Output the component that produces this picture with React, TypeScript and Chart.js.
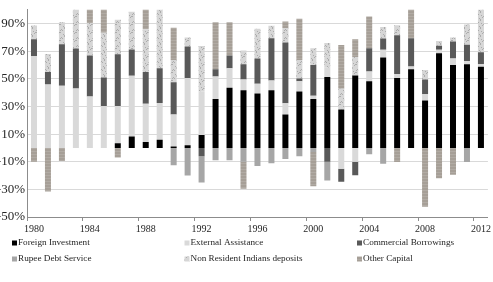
import { useEffect, useRef } from 'react';
import { Chart, registerables } from 'chart.js';

Chart.register(...registerables);

const years = [
  '1980', '1981', '1982', '1983', '1984', '1985', '1986', '1987', '1988', '1989',
  '1990', '1991', '1992', '1993', '1994', '1995', '1996', '1997', '1998', '1999',
  '2000', '2001', '2002', '2003', '2004', '2005', '2006', '2007', '2008', '2009',
  '2010', '2011', '2012',
];

const foreignInvestment = [
  0, 0, 0, 0, 0, 0, 3.4, 8.2, 4.3, 6,
  1, 2, 9.3, 35.4, 43.6, 41.8, 39.4, 41.8, 24.2, 40.8,
  35.4, 51.4, 27.9, 52.5, 48.3, 65.4, 50.7, 57, 34.3, 68.6,
  60, 60.5, 58.8,
];
const externalAssistance = [
  66.5, 46, 45, 43, 37.3, 30.3, 27, 44, 27.7, 26.6,
  23.2, 48.7, 31.5, 16.4, 14, 7.7, 7, 7, 8.2, 7.5,
  2.3, 6.7, -15, -10, 7, 5.6, 2.8, 1.9, 4.6, 2.4,
  4.7, 2.5, 1.7,
];
const commercialBorrowings = [
  12.2, 9, 30, 29, 29.7, 20.7, 37.4, 19, 23, 25,
  23.4, 22.8, -6, 5.2, 9.3, 11, 18.3, 30.6, 44, 2,
  22.3, -10, -9.5, -9.8, 16.8, 8.2, 28, 20.5, 10.6, 3,
  12.3, 11.7, 8.8,
];
const rupeeDebtService = [
  0, 0, 0, 0, 0, 0, 0, 0, 0, 0,
  -12.5, -20, -19, -9, -9, -10, -13, -11, -8, -6,
  -3, -13.5, 0, 0, -4.5, -11.4, 0, 0, 0, 0,
  0, -10.2, 0,
];
const nriDeposits = [
  10, 13, 16, 30, 23.4, 32.4, 25, 27.4, 31, 43,
  16, 6.5, 33, 0, 0, 10, 21.5, 9, 10.5, 13.3,
  12.1, 17.8, 15, 13.3, 0, 8.4, 7.3, 0, 7, 3.5,
  3, 14.6, 32,
];
const otherCapital = [
  -10, -31.5, -9.5, 0, 12, 18, -7, 0, 16, 0,
  23.4, 0, 0, 34, 24, -19.6, 0, 0, 4.7, 30,
  -24.7, 0, 31.7, 12.9, 23, 0, -10.2, 22, -42.5, -22,
  -19.5, 0, 0,
];

const yTicks = [-50, -30, -10, 10, 30, 50, 70, 90];
const seriesNames = [
  'Foreign Investment',
  'External Assistance',
  'Commercial Borrowings',
  'Rupee Debt Service',
  'Non Resident Indians deposits',
  'Other Capital',
];

const FONT = '"Liberation Serif", "Times New Roman", serif';

function makePattern(base: string, ink: string, w: number, h: number, pts: number[][]) {
  const c = document.createElement('canvas');
  c.width = w;
  c.height = h;
  const g = c.getContext('2d')!;
  g.fillStyle = base;
  g.fillRect(0, 0, w, h);
  g.fillStyle = ink;
  pts.forEach(([x, y]) => g.fillRect(x, y, 1, 1));
  return g.createPattern(c, 'repeat') as CanvasPattern;
}

const gridLegend = {
  id: 'gridLegend',
  afterDraw(chart: any) {
    const { ctx, chartArea } = chart;
    const ds = chart.data.datasets;
    ctx.save();
    ctx.font = `9.2px ${FONT}`;
    ctx.textBaseline = 'middle';
    ctx.textAlign = 'left';
    const colW = 172.5;
    const x0 = chartArea.left - 15;
    ds.forEach((d: any, i: number) => {
      const col = i % 3;
      const row = Math.floor(i / 3);
      const x = x0 + col * colW;
      const y = chartArea.bottom + 26 + row * 16;
      ctx.fillStyle = d.backgroundColor;
      ctx.fillRect(x, y - 2.5, 5, 5);
      ctx.fillStyle = '#262626';
      ctx.fillText(d.label, x + 6, y);
    });
    ctx.restore();
  },
};

export default function App() {
  const ref = useRef<HTMLCanvasElement>(null);

  useEffect(() => {
    const canvas = ref.current!;
    const nriPattern = makePattern('#d6d6d6', '#acacac', 8, 8, [
      [1, 0], [2, 0], [0, 1], [5, 2], [6, 3], [6, 4], [3, 5], [2, 6], [4, 6], [7, 7],
    ]);
    const ocPattern = makePattern('#a69f97', '#b1aba4', 4, 3, [[0, 1], [1, 1], [2, 1], [3, 1]]);
    const colors: any[] = ['#000000', '#d9d9d9', '#595959', '#a6a6a6', nriPattern, ocPattern];
    const values = [
      foreignInvestment,
      externalAssistance,
      commercialBorrowings,
      rupeeDebtService,
      nriDeposits,
      otherCapital,
    ];

    const chart = new Chart(canvas, {
      type: 'bar',
      data: {
        labels: years,
        datasets: values.map((v, i) => ({
          label: seriesNames[i],
          data: v,
          backgroundColor: colors[i],
          borderWidth: 0,
          barPercentage: 0.43,
          categoryPercentage: 1,
        })),
      },
      options: {
        responsive: false,
        animation: false,
        devicePixelRatio: 1,
        layout: { padding: { left: 0, right: 4, top: 3, bottom: 0 } },
        plugins: {
          legend: { display: false },
          tooltip: { enabled: false },
        },
        scales: {
          x: {
            stacked: true,
            offset: true,
            grid: {
              offset: true,
              drawOnChartArea: false,
              drawTicks: true,
              tickLength: 4,
              color: (c: any) =>
                c.index !== undefined && c.index % 4 === 0 ? '#8c8c8c' : 'rgba(0,0,0,0)',
            },
            border: { display: true, color: '#8c8c8c' },
            ticks: {
              autoSkip: false,
              maxRotation: 0,
              padding: 2,
              color: '#262626',
              font: { family: FONT, size: 10 },
              callback: (_v: any, i: number) => (i % 4 === 0 ? years[i] : ''),
            },
            afterFit: (s: any) => {
              s.height = 65;
            },
          },
          y: {
            stacked: true,
            min: -50,
            max: 100,
            afterBuildTicks: (s: any) => {
              s.ticks = yTicks.map((v) => ({ value: v }));
            },
            grid: { color: '#d9d9d9', drawTicks: false },
            border: { display: true, color: '#8c8c8c' },
            ticks: {
              padding: 2,
              color: '#262626',
              font: { family: FONT, size: 13 },
              callback: (v: any) => `${v}%`,
            },
            afterFit: (s: any) => {
              s.width = 33;
            },
          },
        },
      },
      plugins: [gridLegend],
    });

    return () => chart.destroy();
  }, []);

  return (
    <div style={{ position: 'absolute', left: -6, top: 0, width: 499, height: 282 }}>
      <canvas ref={ref} width={499} height={282} style={{ display: 'block' }} />
    </div>
  );
}
